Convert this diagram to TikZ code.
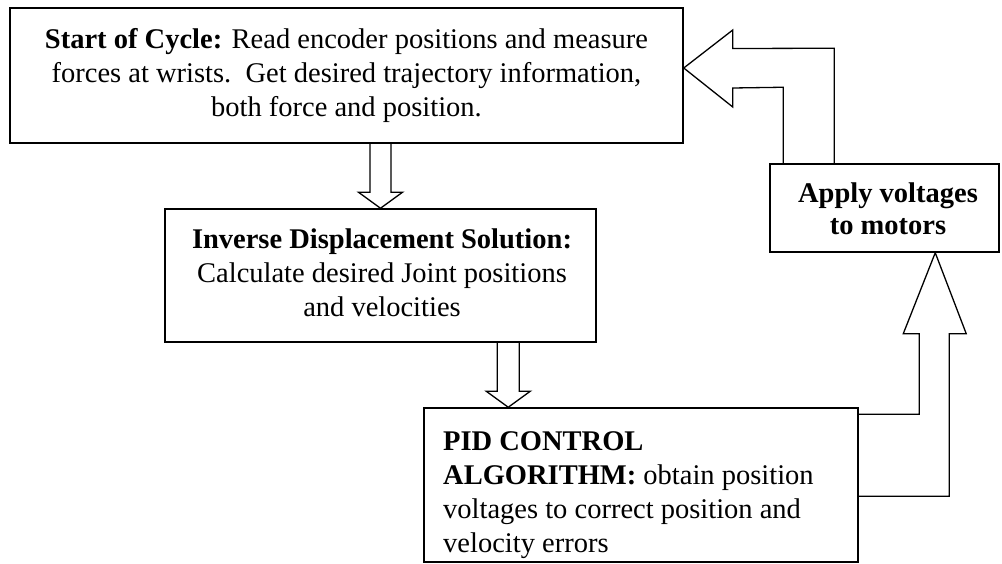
\documentclass[tikz,border=0pt]{standalone}
\usepackage{fontspec}
\setmainfont{Liberation Serif}
\usetikzlibrary{calc}
\begin{document}
\begin{tikzpicture}[x=1pt,y=-1pt,
  box/.style={draw=black,line width=1.5pt,rectangle,inner sep=0pt,
    font=\fontsize{28.5}{34}\selectfont,align=center},
  txt/.style={inner sep=0pt,font=\fontsize{28.5}{34}\selectfont},
  blk/.style={draw=black,line width=1.3pt,line join=miter}]
\useasboundingbox (0,0) rectangle (1002,564);
\node[box,minimum width=673,minimum height=135] (b1) at (346.5,75.5)
  {\textbf{Start of Cycle:} Read encoder positions and measure\\
   forces at wrists.\ \ Get desired trajectory information,\\
   both force and position.};
\node[box,minimum width=431,minimum height=133] (b2) at (380.5,275.5) {};
\node[txt,align=center] (b2t) at (382,272.5)
  {\textbf{Inverse Displacement Solution:}\\
   Calculate desired Joint positions\\
   and velocities};
\node[box,minimum width=434,minimum height=154] (pid) at (641,485) {};
\node[txt,align=flush left,anchor=west] (pidt) at (443,495)
  {\textbf{PID CONTROL}\\
   \textbf{ALGORITHM:} obtain position\\
   voltages to correct position and\\
   velocity errors};
\node[box,minimum width=229,minimum height=88] (ap) at (884.5,208) {};
\node[txt,align=center,font=\fontsize{28.5}{32}\selectfont] (apt) at (888,209)
  {\textbf{Apply voltages}\\ \textbf{to motors}};
% arrow 1: b1 -> b2
\coordinate (t1) at (b2.north);
\coordinate (t1l) at ($(t1)+(-10.5,0)$);
\coordinate (t1r) at ($(t1)+(10.5,0)$);
\draw[blk] (t1l |- b1.south) -- ($(t1)+(-10.5,-16)$) -- ($(t1)+(-22,-16)$) -- (t1)
  -- ($(t1)+(22,-16)$) -- ($(t1)+(10.5,-16)$) -- (t1r |- b1.south);
% arrow 2: b2 -> pid
\coordinate (t2) at ($(pid.north west)+(85,0)$);
\coordinate (t2l) at ($(t2)+(-11,0)$);
\coordinate (t2r) at ($(t2)+(11,0)$);
\draw[blk] (t2l |- b2.south) -- ($(t2)+(-11,-16)$) -- ($(t2)+(-22,-16)$) -- (t2)
  -- ($(t2)+(22,-16)$) -- ($(t2)+(11,-16)$) -- (t2r |- b2.south);
% arrow 3: pid -> apply
\coordinate (t3) at ($(ap.south west)+(166,0)$);
\coordinate (t3l) at ($(t3)+(-16,0)$);
\coordinate (t3r) at ($(t3)+(14,0)$);
\coordinate (p3a) at ($(pid.north east)+(0,7)$);
\coordinate (p3b) at ($(pid.north east)+(0,89)$);
\draw[blk] (p3a) -- (t3l |- p3a) -- ($(t3)+(-16,81)$) -- ($(t3)+(-32,81)$)
  -- (t3) -- ($(t3)+(31,81)$) -- ($(t3)+(14,81)$) -- (t3r |- p3b) -- (p3b);
% arrow 4: apply -> b1
\coordinate (t4) at ($(b1.east)+(0,-7.5)$);
\coordinate (s4o) at ($(ap.north west)+(65,0)$);
\coordinate (s4i) at ($(ap.north west)+(14,0)$);
\draw[blk] (s4o) -- ($(s4o)+(0,-115)$) -- ($(t4)+(49,-19.5)$) -- ($(t4)+(49,-38)$)
  -- (t4) -- ($(t4)+(49,39)$) -- ($(t4)+(49,20)$) -- ($(s4i)+(0,-76)$) -- (s4i);
\end{tikzpicture}
\end{document}
